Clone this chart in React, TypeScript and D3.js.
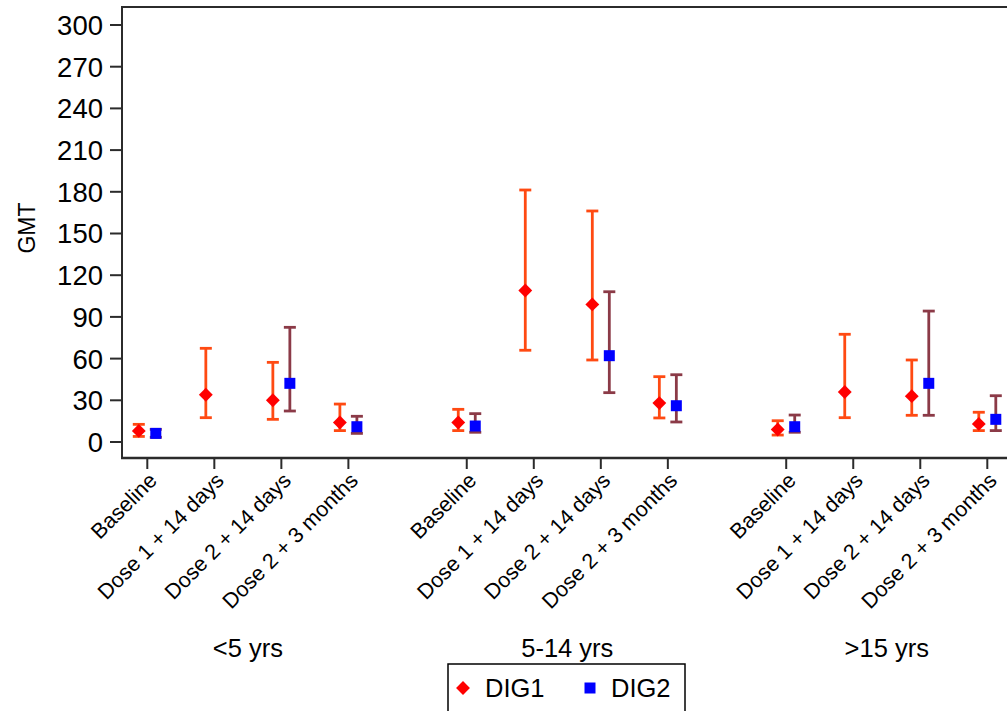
import React from 'react';
import * as d3 from 'd3';

const groups = ['<5 yrs', '5-14 yrs', '>15 yrs'];
const timepoints = ['Baseline', 'Dose 1 + 14 days', 'Dose 2 + 14 days', 'Dose 2 + 3 months'];
const yTicks = [0, 30, 60, 90, 120, 150, 180, 210, 240, 270, 300];
const seriesNames = ['DIG1', 'DIG2'];

// GMT with 95% CI, per age group x timepoint
const dig1Gmt = [[8, 34, 30, 14], [14, 109, 99, 28], [9, 36, 33, 13]];
const dig1Low = [[4, 17.5, 16.3, 8.2], [8.2, 66, 59, 17.3], [5, 17.5, 19.2, 8.2]];
const dig1High = [[12.7, 67.4, 57.3, 27.3], [23.5, 181.3, 166.2, 47], [15.3, 77.5, 59, 21.4]];
const dig2Gmt = [[6.2, null, 42.2, 11], [11.5, null, 62.1, 26.1], [11, null, 42.2, 16.3]];
const dig2Low = [[3.4, null, 22.3, 6.2], [7, null, 35.5, 14.4], [7, null, 19.2, 8.2]];
const dig2High = [[9.1, null, 82.5, 18.5], [20.4, null, 108.1, 48.4], [19.4, null, 94.2, 33.3]];

const W = 1007;
const H = 711;
const FONT = "'Liberation Sans', Arial, Helvetica, sans-serif";
const GROUP_STEP = 4.766;
const AXIS_LEFT = 122;
const AXIS_BOTTOM = 458;
const PLOT_TOP = 7;
const DIG1_BAR = '#ff4a12';
const DIG2_BAR = '#8b3a47';
const DIG1_MARK = '#ff0000';
const DIG2_MARK = '#0000ff';
const AXIS_COL = '#2b2b2b';

export default function App() {
  const y = d3.scaleLinear().domain([0, 300]).range([442, 25]);
  const x = d3.scaleLinear().domain([0, 2 * GROUP_STEP + 3]).range([147.3, 987.3]);
  const pos = (g: number, i: number) => x(g * GROUP_STEP + i);
  const off = 8.5;
  const cap = 6;
  const diamond = d3.symbol(d3.symbolSquare, 96)() as string;
  const square = d3.symbol(d3.symbolSquare, 121)() as string;

  const bars: React.ReactNode[] = [];
  const marks: React.ReactNode[] = [];
  groups.forEach((_, g) => {
    timepoints.forEach((__, i) => {
      const series = [
        { gmt: dig1Gmt[g][i], lo: dig1Low[g][i], hi: dig1High[g][i], dx: -off, bar: DIG1_BAR, k: 0 },
        { gmt: dig2Gmt[g][i], lo: dig2Low[g][i], hi: dig2High[g][i], dx: off, bar: DIG2_BAR, k: 1 },
      ];
      series.forEach((s) => {
        if (s.gmt == null || s.lo == null || s.hi == null) return;
        const cx = pos(g, i) + s.dx;
        const key = `${g}-${i}-${s.k}`;
        bars.push(
          <g key={'b' + key} stroke={s.bar} strokeWidth={2.8} fill="none">
            <line x1={cx} x2={cx} y1={y(s.lo)} y2={y(s.hi)} />
            <line x1={cx - cap} x2={cx + cap} y1={y(s.lo)} y2={y(s.lo)} />
            <line x1={cx - cap} x2={cx + cap} y1={y(s.hi)} y2={y(s.hi)} />
          </g>
        );
        marks.push(
          s.k === 0 ? (
            <path key={'m' + key} d={diamond} transform={`translate(${cx},${y(s.gmt)}) rotate(45)`} fill={DIG1_MARK} />
          ) : (
            <path key={'m' + key} d={square} transform={`translate(${cx},${y(s.gmt)})`} fill={DIG2_MARK} />
          )
        );
      });
    });
  });

  return (
    <svg
      width={W}
      height={H}
      style={{ position: 'absolute', left: 0, top: 0, background: '#fff' }}
      fontFamily={FONT}
    >
      <rect x={0} y={0} width={W} height={H} fill="#fff" />
      {/* frame */}
      <line x1={AXIS_LEFT} x2={W + 5} y1={PLOT_TOP} y2={PLOT_TOP} stroke={AXIS_COL} strokeWidth={2} />
      <line x1={AXIS_LEFT} x2={AXIS_LEFT} y1={PLOT_TOP - 1} y2={AXIS_BOTTOM + 1} stroke={AXIS_COL} strokeWidth={2} />
      <line x1={AXIS_LEFT - 1} x2={W + 5} y1={AXIS_BOTTOM} y2={AXIS_BOTTOM} stroke={AXIS_COL} strokeWidth={2.5} />

      {/* y axis */}
      {yTicks.map((t) => (
        <g key={'y' + t}>
          <line x1={AXIS_LEFT - 12} x2={AXIS_LEFT} y1={y(t)} y2={y(t)} stroke={AXIS_COL} strokeWidth={2} />
          <text x={AXIS_LEFT - 19} y={y(t)} dy="0.36em" textAnchor="end" fontSize={27.5} fill="#000">
            {t}
          </text>
        </g>
      ))}
      <text transform={`translate(35,228) rotate(-90)`} textAnchor="middle" fontSize={23} fill="#000">
        GMT
      </text>

      {/* x axis ticks and labels */}
      {groups.map((gname, g) => (
        <g key={'g' + g}>
          {timepoints.map((tp, i) => (
            <g key={'t' + i}>
              <line x1={pos(g, i)} x2={pos(g, i)} y1={AXIS_BOTTOM} y2={AXIS_BOTTOM + 11} stroke={AXIS_COL} strokeWidth={2} />
              <text
                transform={`translate(${pos(g, i) + 5.4},${AXIS_BOTTOM + 18.4}) rotate(-45)`}
                textAnchor="end"
                dy="0.36em"
                fontSize={21.5}
                fill="#000"
              >
                {tp}
              </text>
            </g>
          ))}
          <text x={(pos(g, 0) + pos(g, 3)) / 2} y={657} textAnchor="middle" fontSize={25.5} fill="#000">
            {gname}
          </text>
        </g>
      ))}

      {bars}
      {marks}

      {/* legend */}
      <rect x={448} y={664} width={237} height={60} fill="#fff" stroke="#000" strokeWidth={1.5} />
      <path d={diamond} transform="translate(463,688) rotate(45)" fill={DIG1_MARK} />
      <text x={485} y={697} fontSize={25.5} fill="#000">{seriesNames[0]}</text>
      <path d={square} transform="translate(590,688)" fill={DIG2_MARK} />
      <text x={611} y={697} fontSize={25.5} fill="#000">{seriesNames[1]}</text>
    </svg>
  );
}
